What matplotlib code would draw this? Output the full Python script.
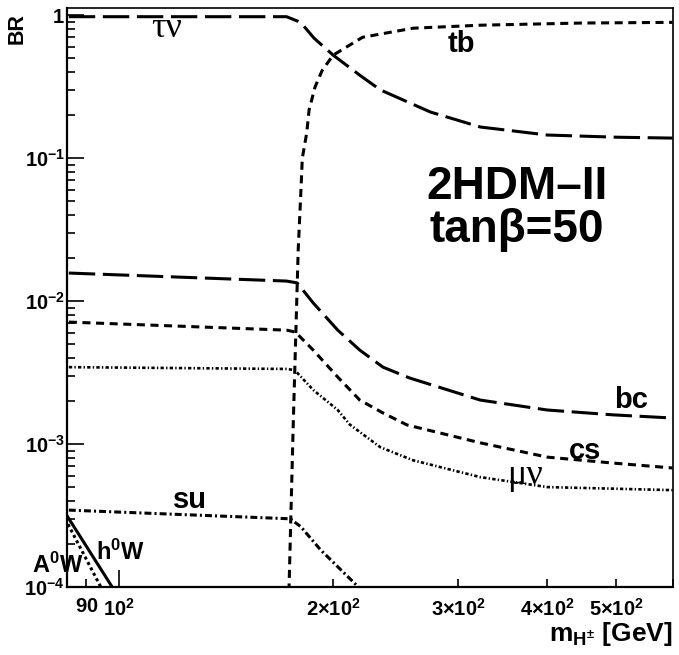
import matplotlib
matplotlib.use("Agg")
import matplotlib.pyplot as plt
from matplotlib.ticker import FixedLocator, FixedFormatter, NullFormatter

# ---- branching ratios of H+ in the 2HDM type II, tan(beta) = 50 ----
mass_taunu = [85, 172, 180, 188, 200, 218, 233, 274, 322, 400, 500, 600]
br_taunu = [0.975, 0.975, 0.89, 0.69, 0.525, 0.38, 0.30, 0.21, 0.165, 0.145, 0.14, 0.138]

mass_tb = [173.0, 173.4, 175.7, 178.6, 180, 181, 183.6, 185, 188.6, 193, 200, 220, 259, 322, 445, 600]
br_tb = [6e-5, 1e-4, 1.3e-3, 0.0227, 0.053, 0.10, 0.15, 0.217, 0.314, 0.41, 0.525, 0.70, 0.81, 0.85, 0.88, 0.89]

mass_bc = [85, 172, 178, 187.5, 203, 218, 235, 256, 322, 400, 495, 600]
br_bc = [0.0157, 0.0138, 0.0134, 0.0097, 0.00626, 0.00454, 0.00345, 0.0029, 0.00203, 0.00173, 0.0016, 0.00152]

mass_cs = [85, 172, 177, 187.5, 203, 218, 235, 254, 322, 400, 495, 600]
br_cs = [0.00713, 0.00626, 0.00607, 0.00454, 0.00294, 0.00203, 0.00165, 0.00136, 0.00102, 0.00081, 0.000736, 0.00068]

mass_munu = [85, 172, 176.6, 187.5, 203, 211, 233, 259, 322, 400, 600]
br_munu = [0.00345, 0.00335, 0.00329, 0.00239, 0.00173, 0.00137, 0.00095, 0.00077, 0.000587, 0.0005, 0.000476]

mass_su = [85, 174, 180, 192, 217, 230]
br_su = [3.45e-4, 3.0e-4, 2.65e-4, 1.82e-4, 1.0e-4, 7.5e-5]

mass_h0W = [84, 100]
br_h0W = [3.3e-4, 0.84e-4]

mass_A0W = [84, 100]
br_A0W = [3.0e-4, 0.57e-4]

# axis ticks and labels
x_major = [100]
x_minor = [90, 200, 300, 400, 500, 600]
x_tick_values = [90, 100, 200, 300, 400, 500]
x_tick_labels = [r"$\mathbf{90}$", r"$\mathbf{10^{2}}$", r"$\mathbf{2{\times}10^{2}}$",
                 r"$\mathbf{3{\times}10^{2}}$", r"$\mathbf{4{\times}10^{2}}$", r"$\mathbf{5{\times}10^{2}}$"]
y_tick_values = [1e-4, 1e-3, 1e-2, 1e-1, 1]
y_tick_labels = [r"$\mathbf{10^{-4}}$", r"$\mathbf{10^{-3}}$", r"$\mathbf{10^{-2}}$",
                 r"$\mathbf{10^{-1}}$", r"$\mathbf{1}$"]
y_minor = [m * 10.0 ** e for e in range(-4, 1) for m in range(2, 10)]

plt.rcParams.update({
    "font.family": ["Liberation Sans", "DejaVu Sans"],
    "font.weight": "bold",
    "mathtext.fontset": "custom",
    "mathtext.rm": "Liberation Sans:bold",
    "mathtext.bf": "Liberation Sans:bold",
    "mathtext.it": "Liberation Sans:bold",
    "mathtext.sf": "Liberation Sans:bold",
    "lines.scale_dashes": False,
})

fig = plt.figure(figsize=(6.79, 6.55), dpi=100)
ax = fig.add_axes([0.0987, 0.1038, 0.8925, 0.8847])
ax.set_xscale("log")
ax.set_yscale("log")
ax.set_xlim(84.5, 601)
ax.set_ylim(1e-4, 1.13)

lw = 2.2
ax.plot(mass_taunu, br_taunu, color="black", lw=lw, dashes=(19, 5.5))
ax.plot(mass_tb, br_tb, color="black", lw=lw, dashes=(5.8, 4))
ax.plot(mass_bc, br_bc, color="black", lw=lw, dashes=(19, 5.5))
ax.plot(mass_cs, br_cs, color="black", lw=lw, dashes=(5.8, 4))
ax.plot(mass_munu, br_munu, color="black", lw=1.9, dashes=(2.4, 1.6, 1.0, 1.6))
ax.plot(mass_su, br_su, color="black", lw=lw, dashes=(5, 2.2, 1.5, 2.2))
ax.plot(mass_h0W, br_h0W, color="black", lw=lw, solid_capstyle="butt")
ax.plot(mass_A0W, br_A0W, color="black", lw=lw, dashes=(2.2, 2.2))

# frame and ticks
for side in ["top", "right"]:
    ax.spines[side].set_linewidth(1.2)
for side in ["left", "bottom"]:
    ax.spines[side].set_linewidth(1.6)

ax.xaxis.set_major_locator(FixedLocator(x_major))
ax.xaxis.set_minor_locator(FixedLocator(x_minor))
ax.xaxis.set_major_formatter(NullFormatter())
ax.xaxis.set_minor_formatter(NullFormatter())
ax.yaxis.set_major_locator(FixedLocator(y_tick_values))
ax.yaxis.set_minor_locator(FixedLocator(y_minor))
ax.yaxis.set_major_formatter(FixedFormatter(y_tick_labels))
ax.yaxis.set_minor_formatter(NullFormatter())
ax.tick_params(axis="both", which="major", direction="in", length=12.5, width=1.2,
               top=False, right=False, labelsize=14.5, pad=1.5)
ax.tick_params(axis="both", which="minor", direction="in", length=6, width=1.2,
               top=False, right=False)

# x labels placed on both major and minor positions
for xv, lab in zip(x_tick_values, x_tick_labels):
    ax.text(xv, -0.018, lab, transform=ax.get_xaxis_transform(), ha="center", va="top",
            fontsize=14.5)

# axis titles
fig.text(0.025, 0.980, "BR", rotation=90, ha="center", va="top", fontsize=15.5, fontweight="bold")
fig.text(673 / 679, 1 - 641 / 655, r"$\mathbf{m_{H^{\pm}}}$ [GeV]", ha="right", va="baseline",
         fontsize=19, fontweight="bold")

# channel labels
serif = ["Liberation Serif", "DejaVu Serif"]
ax.text(116.8, 0.80, "τν", family=serif, fontweight="normal", fontsize=26, ha="center", va="center")
ax.text(303, 0.63, "tb", fontsize=21, ha="center", va="center")
ax.text(525, 2.03e-3, "bc", fontsize=21, ha="center", va="center")
ax.text(452, 8.9e-4, "cs", fontsize=21, ha="center", va="center")
ax.text(372, 6.0e-4, "μν", family=serif, fontweight="normal", fontsize=26, ha="center", va="center")
ax.text(125.9, 4.06e-4, "su", fontsize=21, ha="center", va="center")
ax.text(100.6, 1.76e-4, r"$\mathbf{h^{0}W}$", fontsize=17, ha="center", va="center")
ax.text(82.0, 1.43e-4, r"$\mathbf{A^{0}W}$", fontsize=17, ha="center", va="center", clip_on=False)

ax.text(0.742, 0.690, "2HDM–II", transform=ax.transAxes, fontsize=33, ha="center", va="center")
ax.text(0.742, 0.616, "tanβ=50", transform=ax.transAxes, fontsize=33, ha="center", va="center")

fig.savefig("out.png", dpi=100)
